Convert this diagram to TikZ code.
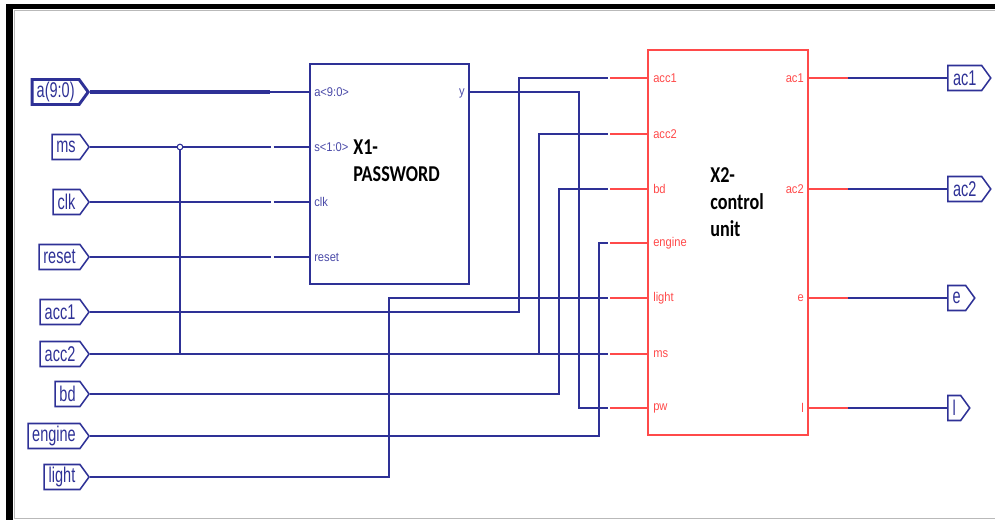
\documentclass[tikz,border=0pt]{standalone}
\usepackage{fontspec}
\setmainfont{Liberation Sans}
\newfontfamily\portf[FakeStretch=0.68]{Liberation Sans}
\newfontfamily\pinf[FakeStretch=0.88]{Liberation Sans}
\newfontfamily\titlef[FakeStretch=0.8]{Carlito}
\usetikzlibrary{shapes.symbols}
\definecolor{wireblue}{HTML}{2E3196}
\definecolor{pinblue}{HTML}{4A4AA8}
\definecolor{pinred}{HTML}{FF4A4A}
\tikzset{
  wire/.style={draw=wireblue, line width=1.15pt},
  bus/.style={draw=wireblue, line width=2.4pt},
  redwire/.style={draw=pinred, line width=1.15pt},
  port/.style={signal, signal to=east, signal from=nowhere, signal pointer angle=108,
    draw=wireblue, line width=1.15pt, minimum height=18.75pt, inner sep=0pt,
    text=wireblue, font=\portf\fontsize{16}{16}\selectfont},
  pinlbl/.style={inner sep=0pt, font=\pinf\fontsize{9.5}{9.5}\selectfont},
  title/.style={inner sep=0pt, align=left, font=\titlef\bfseries\fontsize{17}{20.5}\selectfont},
}
\begin{document}
\begin{tikzpicture}[x=0.75pt,y=-0.75pt]
\useasboundingbox (0,0) rectangle (995,520);
% frame
\fill[black] (6,4) rectangle (995,9);
\fill[black] (6,4) rectangle (13,520);
\draw[gray!55, line width=0.8pt] (14,10.5) -- (995,10.5);
\draw[gray!55, line width=0.8pt] (14.5,10) -- (14.5,518.5);
\draw[gray!55, line width=1pt] (14,518.5) -- (995,518.5);

% blocks
\node[draw=wireblue, line width=1.15pt, minimum width=119.25pt, minimum height=165pt, inner sep=0pt] (x1) at (389.5,174) {};
\node[draw=pinred, line width=1.15pt, minimum width=120pt, minimum height=288.75pt, inner sep=0pt] (x2) at (728,242.5) {};
\node[title, anchor=west] (t1) at (353,161) {X1-\\PASSWORD};
\node[title, anchor=west] (t2) at (710,202) {X2-\\control\\unit};

% input ports
\node[port, line width=2.2pt, minimum width=42pt, anchor=east] (pa) at (90,92) {a(9:0)};
\node[port, minimum width=27.75pt, anchor=east] (pms) at (90,147) {ms};
\node[port, minimum width=27pt, anchor=east] (pclk) at (90,202) {clk};
\node[port, minimum width=37.5pt, anchor=east] (preset) at (90,257) {reset};
\node[port, minimum width=36.75pt, anchor=east] (pacc1) at (90,312) {acc1};
\node[port, minimum width=36.75pt, anchor=east] (pacc2) at (90,354) {acc2};
\node[port, minimum width=25.5pt, anchor=east] (pbd) at (90,394) {bd};
\node[port, minimum width=45.75pt, anchor=east] (pengine) at (90,436) {engine};
\node[port, minimum width=33.75pt, anchor=east] (plight) at (90,477) {light};

% output ports
\node[port, minimum width=32.25pt, anchor=west] (oac1) at (947,78) {ac1};
\node[port, minimum width=32.25pt, anchor=west] (oac2) at (947,189) {ac2};
\node[port, minimum width=20.25pt, anchor=west] (oe) at (947,298) {e};
\node[port, minimum width=16.5pt, anchor=west] (ol) at (947,408) {l};

% X1 pins
\coordinate (x1a) at (310,92);
\coordinate (x1s) at (310,147);
\coordinate (x1clk) at (310,202);
\coordinate (x1reset) at (310,257);
\coordinate (x1y) at (469,92);
\node[pinlbl, text=pinblue, anchor=west] at (314,92) {a<9:0>};
\node[pinlbl, text=pinblue, anchor=west] at (314,147) {s<1:0>};
\node[pinlbl, text=pinblue, anchor=west] at (314,202) {clk};
\node[pinlbl, text=pinblue, anchor=west] at (314,257) {reset};
\node[pinlbl, text=pinblue, anchor=east] at (465,93) {y};

% X2 pins
\foreach \n/\y in {acc1/78, acc2/134, bd/189, engine/243, light/298, ms/354, pw/408}{
  \coordinate (x2\n) at (608,\y);
  \draw[redwire] (610,\y) -- (648,\y);
  \node[pinlbl, text=pinred, anchor=west] at (653,\y) {\n};
}
\foreach \n/\y in {ac1/78, ac2/189, e/298, l/408}{
  \coordinate (x2o\n) at (848,\y);
  \draw[redwire] (808,\y) -- (848,\y);
  \node[pinlbl, text=pinred, anchor=east] at (804,\y) {\n};
}

% wires into X1
\draw[bus] (pa.east) -- (270,92);
\draw[wire] (270,92) -- (x1a);
\draw[wire] (pms.east) -- (271,147);
\draw[wire] (273.5,147) -- (x1s);
\draw[wire] (pclk.east) -- (271,202);
\draw[wire] (273.5,202) -- (x1clk);
\draw[wire] (preset.east) -- (271,257);
\draw[wire] (273.5,257) -- (x1reset);

% wires into X2
\draw[wire] (pacc1.east) -| (519,78) -- (x2acc1);
\draw[wire] (pacc2.east) -- (x2ms);
\draw[wire] (539,354) |- (x2acc2);
\draw[wire] (180,147) -- (180,354);
\draw[wire] (pbd.east) -| (559,189) -- (x2bd);
\draw[wire] (pengine.east) -| (599,243) -- (x2engine);
\draw[wire] (plight.east) -| (389,298) -- (x2light);
\draw[wire] (x1y) -| (579,408) -- (x2pw);

% outputs
\draw[wire] (x2oac1) -- (oac1.west);
\draw[wire] (x2oac2) -- (oac2.west);
\draw[wire] (x2oe) -- (oe.west);
\draw[wire] (x2ol) -- (ol.west);

% junction
\node[circle, draw=wireblue, fill=white, line width=0.8pt, inner sep=0pt, minimum size=4.2pt] (j) at (180,147) {};
\end{tikzpicture}
\end{document}
